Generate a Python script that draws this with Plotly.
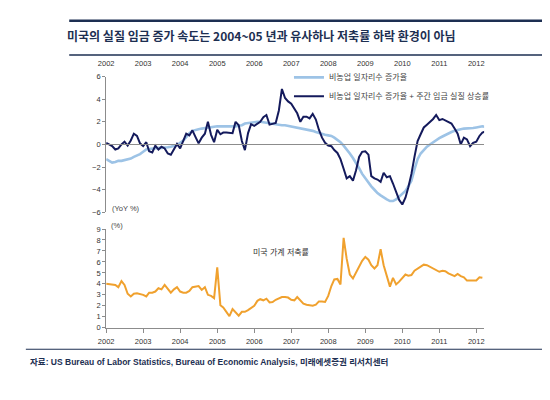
import pandas as pd
import plotly.graph_objects as go

# ---------------- data (monthly, from Jan 2002) ----------------
payroll = [
    -1.3, -1.5, -1.6, -1.55, -1.45, -1.45, -1.4, -1.3, -1.25, -1.1, -1.0, -0.85,
    -0.65, -0.45, -0.4, -0.35, -0.35, -0.3, -0.3, -0.3, -0.25, -0.2, -0.1, -0.05,
    0.15, 0.35, 0.65, 1.0, 1.2, 1.3, 1.35, 1.4, 1.45, 1.5, 1.55, 1.55,
    1.6, 1.6, 1.6, 1.55, 1.6, 1.6, 1.6, 1.65, 1.7, 1.85, 1.9, 1.95,
    1.95, 2.0, 2.0, 1.95, 1.95, 1.9, 1.85, 1.8, 1.75, 1.7, 1.7, 1.65,
    1.6, 1.55, 1.5, 1.45, 1.4, 1.35, 1.3, 1.2, 1.1, 1.0, 0.9, 0.85,
    0.8, 0.75, 0.6, 0.4, 0.2, -0.1, -0.4, -0.8, -1.2, -1.6, -2.1, -2.6,
    -3.0, -3.3, -3.7, -4.0, -4.3, -4.5, -4.7, -4.85, -5.0, -5.0, -4.85, -4.6,
    -4.4, -4.1, -3.7, -3.2, -2.2, -1.3, -0.8, -0.45, -0.2, 0.0, 0.2, 0.35,
    0.55, 0.7, 0.85, 1.0, 1.1, 1.2, 1.3, 1.35, 1.4, 1.4, 1.4, 1.45,
    1.5, 1.55, 1.6, 1.55,
]
payroll_wage = [
    0.15, -0.05, -0.15, -0.45, -0.35, 0.0, 0.25, -0.1, 0.35, 0.95, 0.75, 0.1,
    -0.15, 0.2, -0.6, -0.7, -0.1, -0.45, -0.2, -0.35, -0.8, -0.9, -0.4, 0.05,
    -0.35, 0.35, 0.95, 0.8, 1.25, 0.65, 0.1, 0.6, 0.95, 2.0, 0.85, 0.2,
    1.3, 0.9, 1.05, 1.05, 1.05, 1.0, 2.0, 1.7, 0.3, -0.5, 1.0, 1.8,
    1.65, 1.8, 2.0, 2.4, 2.6, 1.75, 1.85, 1.9, 3.0, 4.9, 4.1, 3.8,
    3.6, 3.2, 2.75, 2.0, 2.45, 2.45, 2.3, 2.7, 2.2, 1.3, 0.6, 0.15,
    -0.1, -0.15, -0.5, -0.75, -1.3, -2.15, -3.0, -2.8, -3.2, -2.3, -1.1, -0.65,
    -0.6, -0.9, -2.8, -3.0, -3.1, -3.3, -2.5, -2.9, -2.8, -3.45, -4.2, -4.9,
    -5.3, -4.7, -3.8, -2.6, -1.1, 0.3, 0.9, 1.5, 1.75, 2.0, 2.25, 2.6,
    2.15, 2.25, 2.1, 2.0, 1.85, 1.4, 0.95, 0.0, 0.6, 0.45, -0.15, 0.15,
    0.25, 0.75, 1.05, 1.15,
]
savings = [
    4.0, 3.95, 3.9, 3.9, 3.7, 4.25, 3.9, 3.1, 2.85, 3.1, 3.15, 3.1,
    3.0, 2.85, 3.2, 3.2, 3.3, 3.6, 3.5, 3.9, 3.5, 3.2, 3.5, 3.7,
    3.3, 3.2, 3.2, 3.35, 3.7, 3.75, 3.8, 3.45, 3.7, 3.0, 2.9, 2.7,
    5.5, 2.05, 1.85, 1.45, 1.05, 1.7, 1.4, 1.1, 1.45, 1.45, 1.6, 1.8,
    2.0, 2.45, 2.6, 2.5, 2.65, 2.3, 2.35, 2.55, 2.7, 2.8, 2.8, 2.75,
    2.55, 2.5, 2.8, 2.5, 2.2, 2.1, 2.05, 2.0, 2.1, 2.4, 2.4, 2.35,
    2.9, 3.8, 4.4, 4.45, 3.95, 8.2, 6.3, 4.85, 4.5, 5.0, 5.6, 6.1,
    6.45, 6.2, 5.7, 5.4, 5.7, 7.15, 5.7, 4.8, 3.75, 4.55, 3.95, 4.2,
    4.5, 4.85, 4.75, 4.8, 5.2, 5.4, 5.6, 5.75, 5.7, 5.55, 5.45, 5.3,
    5.1, 5.2, 5.15, 4.95, 4.8, 4.7, 4.9, 4.7, 4.6, 4.3, 4.3, 4.3,
    4.3, 4.6, 4.55,
]
year_labels = [str(y) for y in range(2002, 2013)]
year_ticks = [f"{y}-01-01" for y in range(2002, 2013)]

name_payroll = "비농업 일자리수 증가율"
name_payroll_wage = "비농업 일자리수 증가율 + 주간 임금 실질 상승률"
name_savings = "미국 가계 저축률"
title_text = "미국의 실질 임금 증가 속도는 2004~05 년과 유사하나 저축률 하락 환경이 아님"
source_text = "자료: US Bureau of Labor Statistics, Bureau of Economic Analysis, 미래에셋증권 리서치센터"

months_top = pd.date_range("2002-01-01", periods=len(payroll), freq="MS")
months_bot = pd.date_range("2002-01-01", periods=len(savings), freq="MS")

# ---------------- layout helpers ----------------
# The page body has an 8px default margin; positions below are given in
# window pixels and converted to paper coordinates of the 550x400 figure.
W, H = 550, 400
OFF = 8
def px(x):
    return (x - OFF) / W
def py(y):
    return 1 - (y - OFF) / H

FONT = "Liberation Sans, Arial, Noto Sans CJK KR, sans-serif"
NAVY = "#1d2f52"
LIGHT = "#9dc3e6"
DARK = "#141a5c"
ORANGE = "#f0a12e"
AXIS = "#8c8c8c"
XRANGE = ["2002-01-01", "2012-03-18"]
XDOM = [px(99.5), px(483)]

fig = go.Figure()
fig.add_trace(go.Scatter(x=months_top, y=payroll, name=name_payroll, mode="lines",
                         line=dict(color=LIGHT, width=2.6), xaxis="x", yaxis="y"))
fig.add_trace(go.Scatter(x=months_top, y=payroll_wage, name=name_payroll_wage, mode="lines",
                         line=dict(color=DARK, width=2), xaxis="x", yaxis="y"))
fig.add_trace(go.Scatter(x=[], y=[], xaxis="x3", yaxis="y", showlegend=False, hoverinfo="skip"))
fig.add_trace(go.Scatter(x=months_bot, y=savings, name=name_savings, mode="lines",
                         line=dict(color=ORANGE, width=2), xaxis="x2", yaxis="y2",
                         showlegend=False))

tickfont = dict(family=FONT, size=7.5, color="#333333")

fig.update_layout(
    width=W, height=H, margin=dict(l=0, r=0, t=0, b=0),
    paper_bgcolor="white", plot_bgcolor="white",
    font=dict(family=FONT, color="#333333"),
    xaxis=dict(domain=XDOM, range=XRANGE, anchor="y", side="top",
               tickvals=year_ticks, ticktext=year_labels, showline=False, ticks="",
               showgrid=False, zeroline=False, tickfont=tickfont, ticklabelstandoff=8),
    xaxis3=dict(overlaying="x", range=XRANGE, anchor="free", position=py(143),
                tickvals=year_ticks, showticklabels=False, showline=True,
                linecolor=AXIS, linewidth=1, ticks="outside", ticklen=4,
                tickcolor=AXIS, showgrid=False, zeroline=False),
    yaxis=dict(domain=[py(213), py(74)], range=[-6, 6], dtick=2, anchor="x",
               showline=True, linecolor=AXIS, ticks="outside", ticklen=3, tickcolor=AXIS,
               showgrid=False, zeroline=False, tickfont=tickfont),
    xaxis2=dict(domain=XDOM, range=XRANGE, anchor="y2",
                tickvals=year_ticks, ticktext=year_labels, showline=True, linecolor=AXIS,
                ticks="outside", ticklen=4, tickcolor=AXIS, showgrid=False, zeroline=False,
                tickfont=tickfont, ticklabelstandoff=2),
    yaxis2=dict(domain=[py(331), py(230)], range=[0, 9], dtick=1, anchor="x2",
                showline=True, linecolor=AXIS, ticks="outside", ticklen=3, tickcolor=AXIS,
                showgrid=False, zeroline=False, tickfont=tickfont),
    legend=dict(x=px(285), y=py(60), xanchor="left", yanchor="top",
                bgcolor="rgba(0,0,0,0)", font=dict(family=FONT, size=8, color="#444444"),
                tracegroupgap=0),
    showlegend=True,
)

annotations = [
    dict(text=f"<b>{title_text}</b>", x=px(58), y=py(32), xanchor="left", yanchor="middle",
         font=dict(size=12, color=NAVY, family="Noto Sans CJK KR, Liberation Sans, sans-serif")),
    dict(text=f"<b>{source_text}</b>", x=px(20), y=py(366), xanchor="left", yanchor="middle",
         font=dict(size=8.5, color=NAVY, family=FONT)),
    dict(text="(YoY %)", x=px(103), y=py(209), xanchor="left", yanchor="middle",
         font=dict(size=7.5, color="#444444")),
    dict(text="(%)", x=px(102), y=py(226), xanchor="left", yanchor="middle",
         font=dict(size=7.5, color="#444444")),
    dict(text=name_savings, x=px(277), y=py(254), xanchor="center", yanchor="middle",
         font=dict(size=8, color="#333333")),
]
for a in annotations:
    a.update(xref="paper", yref="paper", showarrow=False)
fig.update_layout(annotations=annotations)

fig.update_layout(shapes=[
    dict(type="line", xref="paper", yref="paper", x0=px(62), x1=1, y0=py(17), y1=py(17),
         line=dict(color=NAVY, width=2.5)),
    dict(type="line", xref="paper", yref="paper", x0=px(62), x1=1, y0=py(52), y1=py(52),
         line=dict(color=NAVY, width=1.5)),
    dict(type="line", xref="paper", yref="paper", x0=px(18), x1=1, y0=py(353), y1=py(353),
         line=dict(color=NAVY, width=1.2)),
])

fig.write_html("out.html")
